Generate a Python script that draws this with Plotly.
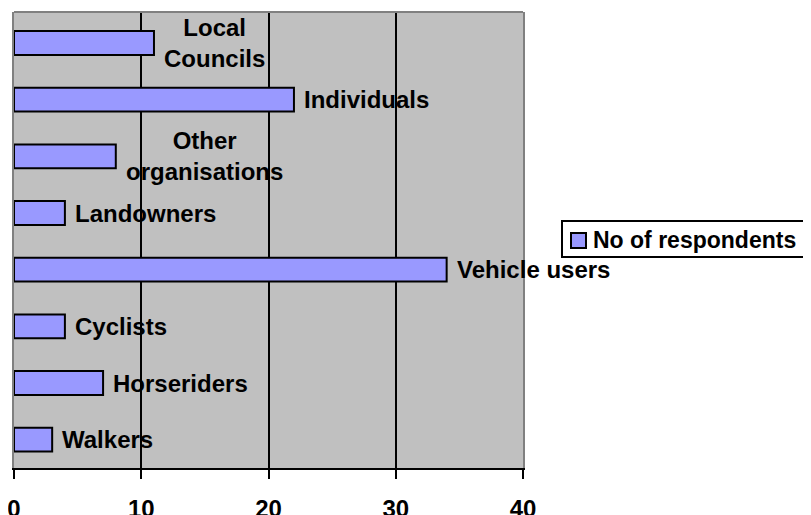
import plotly.graph_objects as go

categories = ["Walkers", "Horseriders", "Cyclists", "Vehicle users",
              "Landowners", "Other organisations", "Individuals", "Local Councils"]
label_text = ["Walkers", "Horseriders", "Cyclists", "Vehicle users",
              "Landowners", "Other<br>organisations", "Individuals", "Local<br>Councils"]
respondents = [3, 7, 4, 34, 4, 8, 22, 11]
tick_vals = [0, 10, 20, 30, 40]
series_name = "No of respondents"

FONT = "Liberation Sans, Arial, sans-serif"
BAR_COLOR = "#9999FF"

# page body has an 8px margin, so the figure is drawn 8px smaller
W, H = 803, 507
L, R, T, B = 6, 288, 4, 47
PW, PH = W - L - R, H - T - B


def px(xf):
    return (xf - L) / PW


def py(yf):
    return (H - B - yf) / PH


fig = go.Figure()
fig.add_trace(go.Bar(
    y=categories, x=respondents, orientation="h", name=series_name,
    marker=dict(color=BAR_COLOR, line=dict(color="black", width=2)),
    showlegend=False,
))

for cat, val, txt in zip(categories, respondents, label_text):
    fig.add_annotation(x=val, y=cat, text="<b>%s</b>" % txt, showarrow=False,
                       xanchor="left", yanchor="middle", xshift=8, align="center",
                       font=dict(family=FONT, size=24, color="black"))

# plot-area top border
fig.add_shape(type="line", xref="paper", yref="paper", x0=0, x1=1, y0=1, y1=1,
              line=dict(color="#808080", width=2))

# legend (box, swatch, text)
fig.add_shape(type="rect", xref="paper", yref="paper",
              x0=px(554), x1=px(830), y0=py(249), y1=py(213),
              line=dict(color="black", width=2), fillcolor="white")
fig.add_shape(type="rect", xref="paper", yref="paper",
              x0=px(563), x1=px(578), y0=py(240), y1=py(225),
              line=dict(color="black", width=2), fillcolor=BAR_COLOR)
fig.add_annotation(xref="paper", yref="paper", x=px(583), y=py(232),
                   text="<b>%s</b>" % series_name, showarrow=False,
                   xanchor="left", yanchor="middle",
                   font=dict(family=FONT, size=23, color="black"))

fig.update_layout(
    width=W, height=H,
    margin=dict(l=L, r=R, t=T, b=B, autoexpand=False),
    paper_bgcolor="white", plot_bgcolor="#C0C0C0",
    bargap=0.58,
    showlegend=False,
    font=dict(family=FONT, size=24, color="black"),
    xaxis=dict(range=[0, 40], tickvals=tick_vals,
               ticktext=["<b>%d</b>" % v for v in tick_vals],
               showgrid=True, gridcolor="black", gridwidth=2, zeroline=False,
               showline=True, linecolor="black", linewidth=2,
               ticks="outside", ticklen=9, tickwidth=2, tickcolor="black",
               ticklabelstandoff=9, ticklabeloverflow="allow",
               tickfont=dict(family=FONT, size=24, color="black")),
    yaxis=dict(categoryorder="array", categoryarray=categories,
               showticklabels=False, showgrid=False, zeroline=False,
               showline=True, linecolor="#808080", linewidth=2, mirror=True,
               ticks=""),
)

fig.write_html("out.html")
